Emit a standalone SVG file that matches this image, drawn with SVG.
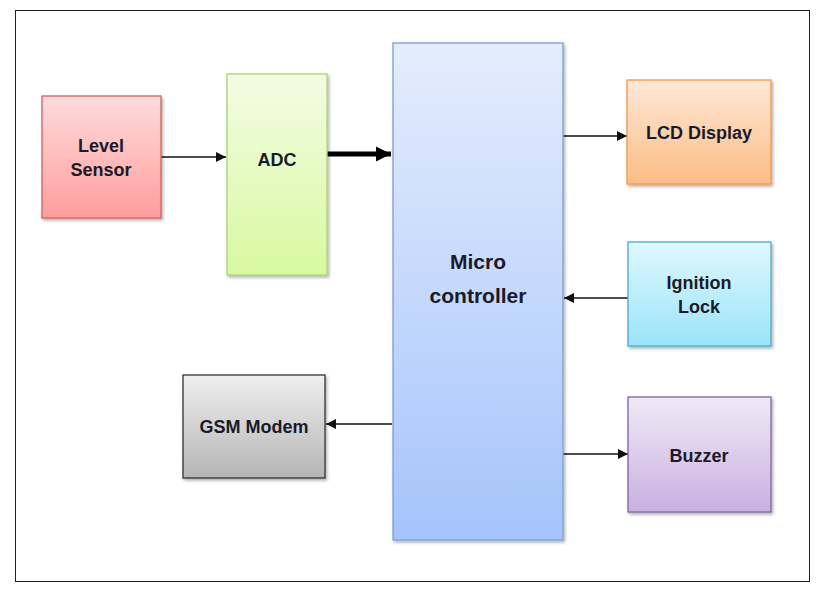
<svg xmlns="http://www.w3.org/2000/svg" width="827" height="597" viewBox="0 0 827 597">
<style>
.lbl{font-family:"Liberation Sans",Arial,sans-serif;font-weight:bold;font-size:18px;fill:#1a1a2a;text-anchor:middle}
.big{font-size:21px}
.box{stroke-width:1.3}
.ln{stroke:#111;stroke-width:1.3;fill:none}
</style>
<defs>
<filter id="sh" x="-10%" y="-10%" width="125%" height="125%">
<feDropShadow dx="1.5" dy="2" stdDeviation="1.5" flood-color="#000" flood-opacity="0.3"/>
</filter>
<linearGradient id="gRed" x1="0" y1="0" x2="0" y2="1"><stop offset="0" stop-color="#ffdcdc"/><stop offset="1" stop-color="#ff9d9d"/></linearGradient>
<linearGradient id="gGreen" x1="0" y1="0" x2="0" y2="1"><stop offset="0" stop-color="#f3fce4"/><stop offset="1" stop-color="#d8f9a0"/></linearGradient>
<linearGradient id="gBlue" x1="0" y1="0" x2="0" y2="1"><stop offset="0" stop-color="#e4edfd"/><stop offset="1" stop-color="#a5c4fb"/></linearGradient>
<linearGradient id="gOrange" x1="0" y1="0" x2="0" y2="1"><stop offset="0" stop-color="#fee8d6"/><stop offset="1" stop-color="#fcbd86"/></linearGradient>
<linearGradient id="gCyan" x1="0" y1="0" x2="0" y2="1"><stop offset="0" stop-color="#e0f8fe"/><stop offset="1" stop-color="#9be4f9"/></linearGradient>
<linearGradient id="gPurple" x1="0" y1="0" x2="0" y2="1"><stop offset="0" stop-color="#f0eaf6"/><stop offset="1" stop-color="#c8b0e1"/></linearGradient>
<linearGradient id="gGray" x1="0" y1="0" x2="0" y2="1"><stop offset="0" stop-color="#efefef"/><stop offset="1" stop-color="#b5b5b5"/></linearGradient>
<marker id="ah" viewBox="0 0 10 10" refX="10" refY="5" markerWidth="11" markerHeight="10" markerUnits="userSpaceOnUse" orient="auto"><path d="M0,0 L10,5 L0,10 Z" fill="#111"/></marker>
<marker id="ahb" viewBox="0 0 10 10" refX="10" refY="5" markerWidth="15" markerHeight="17" markerUnits="userSpaceOnUse" orient="auto"><path d="M0,0 L10,5 L0,10 Z" fill="#000"/></marker>
</defs>
<rect x="0" y="0" width="827" height="597" fill="#fff"/>
<rect x="15.5" y="10.5" width="794" height="571" fill="none" stroke="#222" stroke-width="1"/>

<g id="connectors">
<line class="ln" x1="161" y1="157" x2="226" y2="157" marker-end="url(#ah)"/>
<line x1="327" y1="154" x2="391" y2="154" stroke="#000" stroke-width="5" marker-end="url(#ahb)"/>
<line class="ln" x1="563" y1="136" x2="627" y2="136" marker-end="url(#ah)"/>
<line class="ln" x1="628" y1="298" x2="564" y2="298" marker-end="url(#ah)"/>
<line class="ln" x1="563" y1="454" x2="628" y2="454" marker-end="url(#ah)"/>
<line class="ln" x1="392" y1="424" x2="326" y2="424" marker-end="url(#ah)"/>
</g>

<g id="level-sensor">
<rect class="box" x="42" y="96" width="119" height="122" fill="url(#gRed)" stroke="#d2605f" filter="url(#sh)"/>
<text class="lbl" x="101" y="152">Level</text>
<text class="lbl" x="101" y="176">Sensor</text>
</g>
<g id="adc">
<rect class="box" x="227" y="74" width="100" height="201" fill="url(#gGreen)" stroke="#a9d46a" filter="url(#sh)"/>
<text class="lbl" x="277" y="166">ADC</text>
</g>
<g id="microcontroller">
<rect class="box" x="393" y="43" width="170" height="497" fill="url(#gBlue)" stroke="#7a9fd6" filter="url(#sh)"/>
<text class="lbl big" x="478" y="269">Micro</text>
<text class="lbl big" x="478" y="303">controller</text>
</g>
<g id="lcd-display">
<rect class="box" x="627" y="80" width="144" height="104" fill="url(#gOrange)" stroke="#f79646" filter="url(#sh)"/>
<text class="lbl" x="699" y="139">LCD Display</text>
</g>
<g id="ignition-lock">
<rect class="box" x="628" y="242" width="143" height="104" fill="url(#gCyan)" stroke="#4bacc6" filter="url(#sh)"/>
<text class="lbl" x="699" y="289">Ignition</text>
<text class="lbl" x="699" y="313">Lock</text>
</g>
<g id="buzzer">
<rect class="box" x="628" y="397" width="143" height="115" fill="url(#gPurple)" stroke="#8064a2" filter="url(#sh)"/>
<text class="lbl" x="699" y="462">Buzzer</text>
</g>
<g id="gsm-modem">
<rect class="box" x="183" y="375" width="142" height="103" fill="url(#gGray)" stroke="#333" filter="url(#sh)"/>
<text class="lbl" x="254" y="433">GSM Modem</text>
</g>
</svg>
